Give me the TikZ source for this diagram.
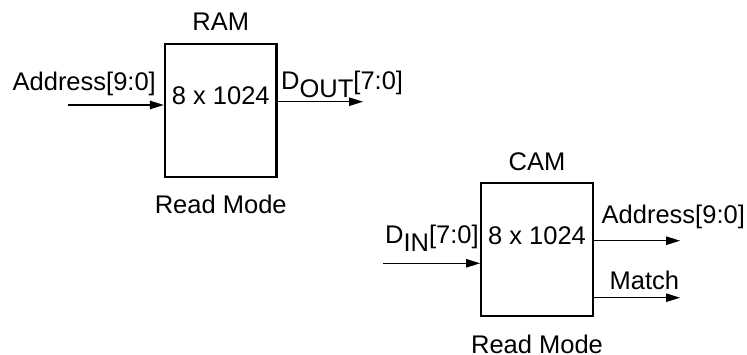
\documentclass[tikz,border=0pt]{standalone}
\usepackage{fontspec}
\setmainfont{Liberation Sans}
\usetikzlibrary{arrows.meta,positioning,calc}
\newcommand{\subsig}[1]{\raisebox{-7.5pt}{#1}}

\begin{document}
\begin{tikzpicture}[x=1pt,y=-1pt,
    memblock/.style={draw,line width=2.4pt,minimum width=111.5pt,
      minimum height=133pt,inner sep=0pt},
    sig/.style={line width=1.2pt,-{Triangle[length=14pt,width=8.5pt]}},
    lbl/.style={font=\fontsize{25.5}{30}\selectfont,inner sep=0pt}]
  \useasboundingbox (0,0) rectangle (747,355);
  % RAM block
  \node[memblock] (ram) at (220.75,110.5) {};
  \node[lbl,anchor=base] (ramname) at ($(ram.north)+(0,-12.3)$) {RAM};
  \node[lbl,anchor=base] (ramsize) at ($(ram.center)+(0,-5.5)$) {8 x 1024};
  \node[lbl,anchor=base] (rammode) at ($(ram.south)+(0,35.7)$) {Read Mode};
  % Address in
  \coordinate (ramin) at (68,105);
  \draw[sig] (ramin) -- (ramin -| ram.west);
  \node[lbl,anchor=base east] (ramaddr) at (156,90.7) {Address[9:0]};
  % Data out
  \coordinate (ramout) at (363,101.7);
  \draw[sig] (ramout -| ram.east) -- (ramout);
  \node[lbl,anchor=base west] (ramdata) at (281,90) {D\subsig{OUT}[7:0]};
  % CAM block
  \node[memblock] (cam) at (537,249.75) {};
  \node[lbl,anchor=base] (camname) at ($(cam.north)+(0,-11.8)$) {CAM};
  \node[lbl,anchor=base] (camsize) at ($(cam.center)+(0,-5.5)$) {8 x 1024};
  \node[lbl,anchor=base] (cammode) at ($(cam.south)+(0,36.3)$) {Read Mode};
  % Data in
  \coordinate (camin) at (383,263.3);
  \draw[sig] (camin) -- (camin -| cam.west);
  \node[lbl,anchor=base west] (camdata) at (385,244) {D\subsig{IN}[7:0]};
  % Address and match out
  \coordinate (camout) at (680,240.7);
  \draw[sig] (camout -| cam.east) -- (camout);
  \node[lbl,anchor=base west] (camaddr) at (601.5,224) {Address[9:0]};
  \coordinate (cammatch) at (680,297.7);
  \draw[sig] (cammatch -| cam.east) -- (cammatch);
  \node[lbl,anchor=base west] (cammatchlbl) at (609.5,290) {Match};
\end{tikzpicture}
\end{document}
